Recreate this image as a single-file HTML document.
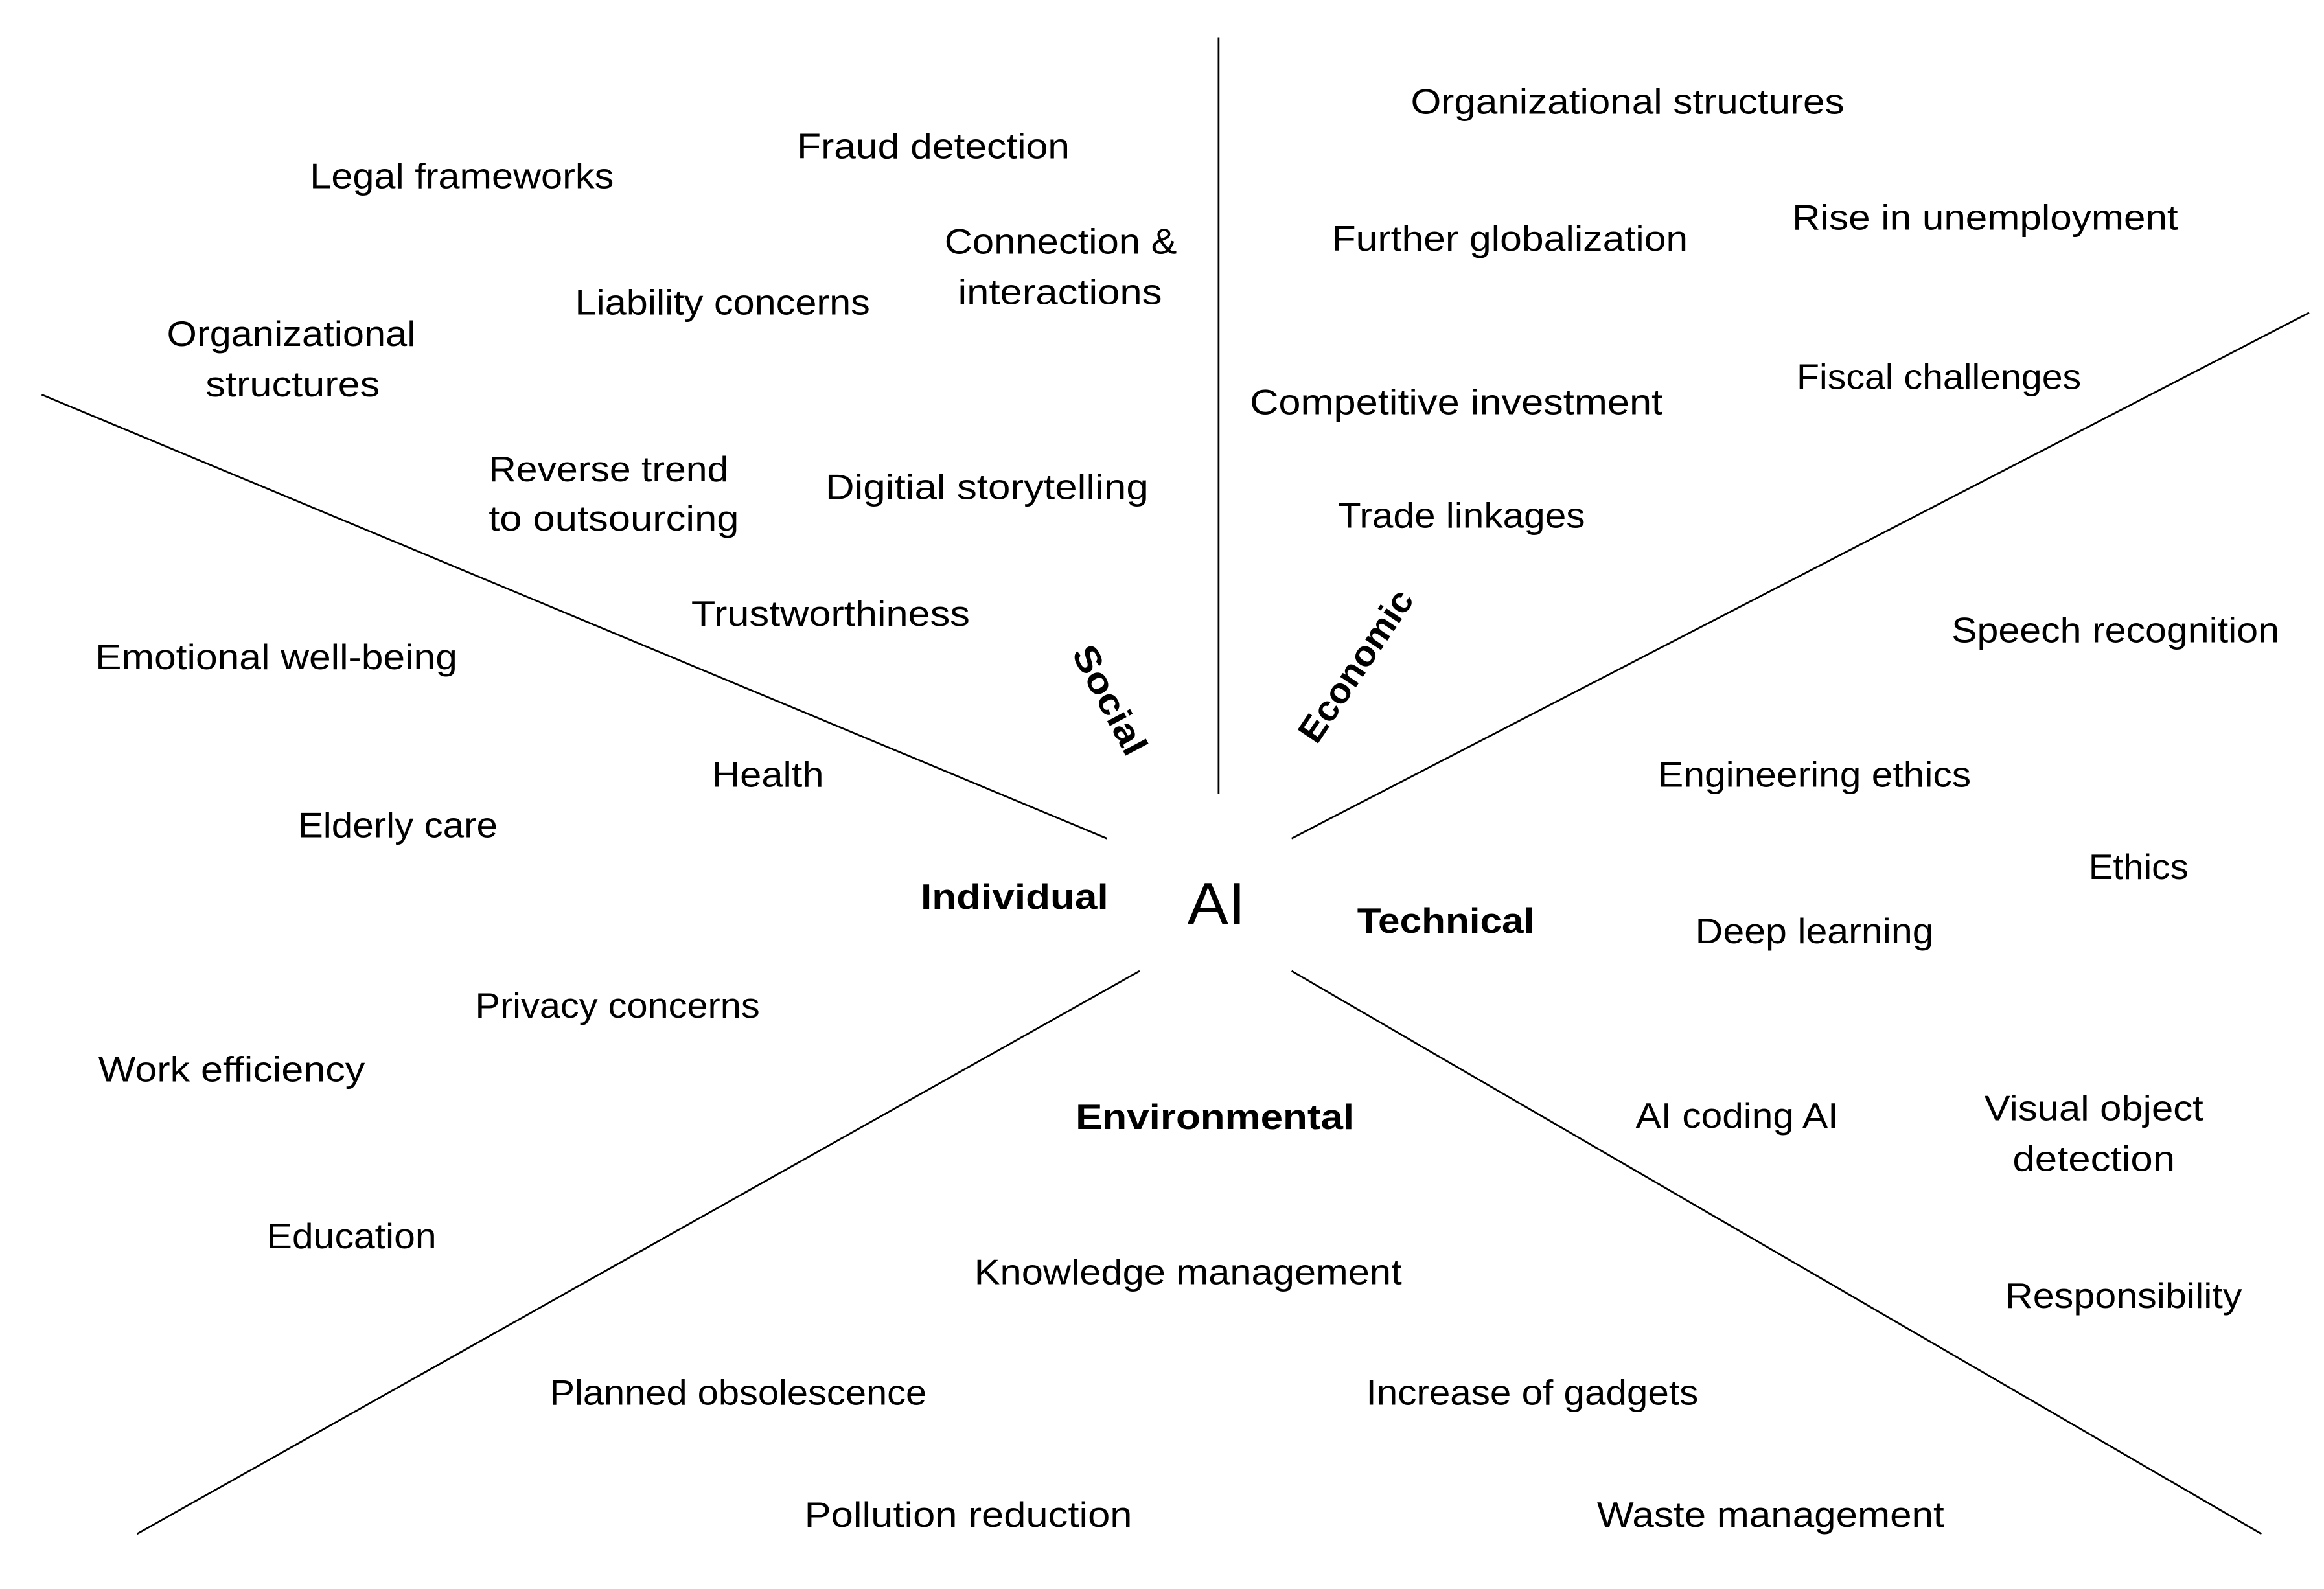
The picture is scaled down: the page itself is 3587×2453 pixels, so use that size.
<!DOCTYPE html>
<html><head><meta charset="utf-8"><style>
html,body{margin:0;padding:0;background:#fff;}
svg{display:block;}
text{font-family:"Liberation Sans",sans-serif;font-size:24px;fill:#000;dominant-baseline:central;}
.b{font-weight:bold;}
</style></head><body>
<svg width="3587" height="2453" viewBox="0 0 1560 1067" preserveAspectRatio="none" xmlns="http://www.w3.org/2000/svg">
<g stroke="#000" stroke-width="1.2" fill="none">
<line x1="818" y1="25" x2="818" y2="533"/>
<line x1="28" y1="265" x2="743" y2="563"/>
<line x1="867" y1="563" x2="1550" y2="210"/>
<line x1="765" y1="652" x2="92" y2="1030"/>
<line x1="867" y1="652" x2="1518" y2="1030"/>
</g>
<g lengthAdjust="spacingAndGlyphs">
<text x="947" y="68" textLength="291" lengthAdjust="spacingAndGlyphs">Organizational structures</text>
<text x="208" y="118" textLength="204" lengthAdjust="spacingAndGlyphs">Legal frameworks</text>
<text x="535" y="98" textLength="183" lengthAdjust="spacingAndGlyphs">Fraud detection</text>
<text x="634" y="162" textLength="156" lengthAdjust="spacingAndGlyphs">Connection &amp;</text>
<text x="643" y="196" textLength="137" lengthAdjust="spacingAndGlyphs">interactions</text>
<text x="894" y="160" textLength="239" lengthAdjust="spacingAndGlyphs">Further globalization</text>
<text x="1203" y="146" textLength="259" lengthAdjust="spacingAndGlyphs">Rise in unemployment</text>
<text x="386" y="203" textLength="198" lengthAdjust="spacingAndGlyphs">Liability concerns</text>
<text x="112" y="224" textLength="167" lengthAdjust="spacingAndGlyphs">Organizational</text>
<text x="138" y="258" textLength="117" lengthAdjust="spacingAndGlyphs">structures</text>
<text x="1206" y="253" textLength="191" lengthAdjust="spacingAndGlyphs">Fiscal challenges</text>
<text x="839" y="270" textLength="277" lengthAdjust="spacingAndGlyphs">Competitive investment</text>
<text x="328" y="315" textLength="161" lengthAdjust="spacingAndGlyphs">Reverse trend</text>
<text x="328" y="348" textLength="168" lengthAdjust="spacingAndGlyphs">to outsourcing</text>
<text x="554" y="327" textLength="217" lengthAdjust="spacingAndGlyphs">Digitial storytelling</text>
<text x="898" y="346" textLength="166" lengthAdjust="spacingAndGlyphs">Trade linkages</text>
<text x="464" y="412" textLength="187" lengthAdjust="spacingAndGlyphs">Trustworthiness</text>
<text x="1310" y="423" textLength="220" lengthAdjust="spacingAndGlyphs">Speech recognition</text>
<text x="64" y="441" textLength="243" lengthAdjust="spacingAndGlyphs">Emotional well-being</text>
<text class="b" x="745" y="470" text-anchor="middle" transform="rotate(62 745 470)" textLength="80" lengthAdjust="spacingAndGlyphs">Social</text>
<text class="b" x="910" y="447" text-anchor="middle" transform="rotate(-56 910 447)" textLength="118" lengthAdjust="spacingAndGlyphs">Economic</text>
<text x="478" y="520" textLength="75" lengthAdjust="spacingAndGlyphs">Health</text>
<text x="1113" y="520" textLength="210" lengthAdjust="spacingAndGlyphs">Engineering ethics</text>
<text x="200" y="554" textLength="134" lengthAdjust="spacingAndGlyphs">Elderly care</text>
<text x="1402" y="582" textLength="67" lengthAdjust="spacingAndGlyphs">Ethics</text>
<text class="b" x="618" y="602" textLength="126" lengthAdjust="spacingAndGlyphs">Individual</text>
<text x="797" y="607" style="font-size:40px" textLength="39" lengthAdjust="spacingAndGlyphs">AI</text>
<text class="b" x="911" y="618" textLength="119" lengthAdjust="spacingAndGlyphs">Technical</text>
<text x="1138" y="625" textLength="160" lengthAdjust="spacingAndGlyphs">Deep learning</text>
<text x="319" y="675" textLength="191" lengthAdjust="spacingAndGlyphs">Privacy concerns</text>
<text x="66" y="718" textLength="179" lengthAdjust="spacingAndGlyphs">Work efficiency</text>
<text x="1098" y="749" textLength="136" lengthAdjust="spacingAndGlyphs">AI coding AI</text>
<text x="1332" y="744" textLength="147" lengthAdjust="spacingAndGlyphs">Visual object</text>
<text x="1351" y="778" textLength="109" lengthAdjust="spacingAndGlyphs">detection</text>
<text class="b" x="722" y="750" textLength="187" lengthAdjust="spacingAndGlyphs">Environmental</text>
<text x="179" y="830" textLength="114" lengthAdjust="spacingAndGlyphs">Education</text>
<text x="654" y="854" textLength="287" lengthAdjust="spacingAndGlyphs">Knowledge management</text>
<text x="1346" y="870" textLength="159" lengthAdjust="spacingAndGlyphs">Responsibility</text>
<text x="369" y="935" textLength="253" lengthAdjust="spacingAndGlyphs">Planned obsolescence</text>
<text x="917" y="935" textLength="223" lengthAdjust="spacingAndGlyphs">Increase of gadgets</text>
<text x="540" y="1017" textLength="220" lengthAdjust="spacingAndGlyphs">Pollution reduction</text>
<text x="1072" y="1017" textLength="233" lengthAdjust="spacingAndGlyphs">Waste management</text>
</g>
</svg>
</body></html>
